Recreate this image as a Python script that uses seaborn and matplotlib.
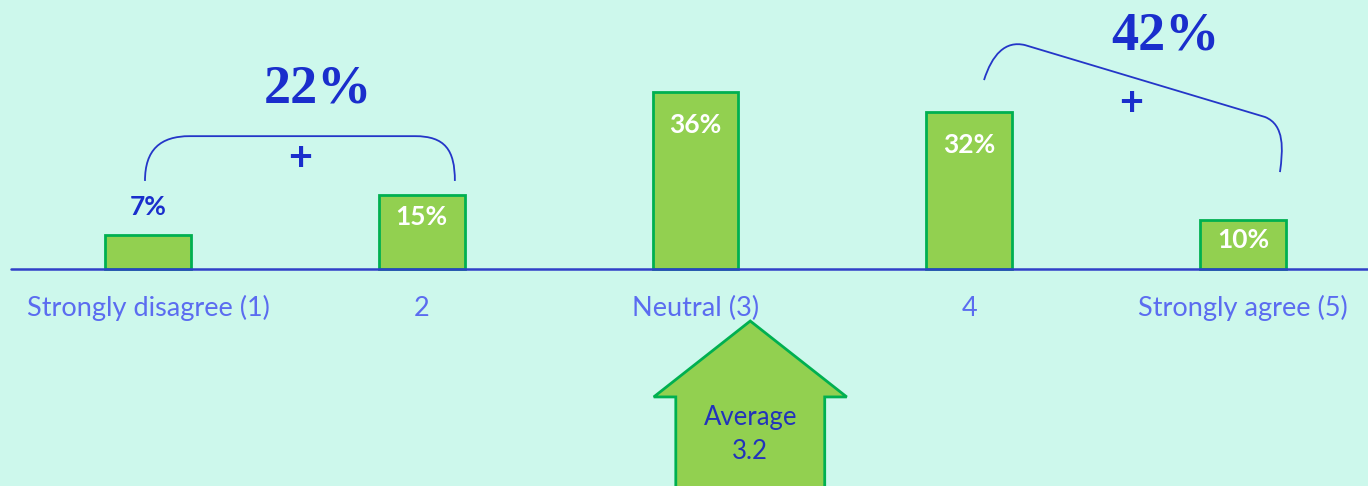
import matplotlib
matplotlib.use("Agg")
import matplotlib.pyplot as plt
from matplotlib.path import Path
from matplotlib.patches import PathPatch, Polygon
import seaborn as sns
import pandas as pd

# Survey response distribution
categories = ["Strongly disagree (1)", "2", "Neutral (3)", "4", "Strongly agree (5)"]
shares = [7, 15, 36, 32, 10]
bottom_two = "22%"
top_two = "42%"
average = 3.2

BG = "#CDF8EC"
FILL = "#92D050"
EDGE = "#00B050"
DARK = "#1A2ECC"
TICK = "#5B6CF0"

sns.set_theme(style="white")
plt.rcParams["font.family"] = ["Lato", "DejaVu Sans"]

fig = plt.figure(figsize=(13.68, 4.86), dpi=100, facecolor=BG)
ax = fig.add_axes([0, 0, 1, 1])
ax.set_facecolor(BG)

df = pd.DataFrame({"category": categories, "share": shares})
sns.barplot(data=df, x="category", y="share", order=categories, width=0.314,
            color=FILL, edgecolor=EDGE, linewidth=2, saturation=1, ax=ax, zorder=2)

ax.set_xlim(-0.5406, 4.4566)
ax.set_ylim(-44.1, 54.67)
for s in ax.spines.values():
    s.set_visible(False)
ax.set_xticks([])
ax.set_yticks([])
ax.set_xlabel("")
ax.set_ylabel("")

# baseline
ax.axhline(0, xmin=11 / 1368, xmax=1, color="#3040C8", lw=1.8, zorder=3)

# category labels under the baseline
for i, c in enumerate(categories):
    ax.text(i, -8.0, c, ha="center", va="center", fontsize=19.5, color=TICK)

# value labels
for i, v in enumerate(shares):
    if v < 10:
        ax.text(i, v + 5.6, f"{v}%", ha="center", va="center", fontsize=19,
                fontweight="bold", color=DARK, zorder=4)
    else:
        off = min(6.8, max(4.1, 0.3 * v))
        ax.text(i, v - off, f"{v}%", ha="center", va="center", fontsize=19,
                fontweight="bold", color="white", zorder=4)

# group brackets
C4, L, M = Path.CURVE4, Path.LINETO, Path.MOVETO
left_br = [(-0.011, 17.9), (-0.011, 24.2), (0.044, 27.0), (0.153, 27.0),
           (0.975, 27.0), (1.085, 27.0), (1.121, 24.2), (1.121, 17.9)]
right_br = [(3.054, 38.4), (3.083, 43.5), (3.131, 46.5), (3.204, 45.5),
            (4.080, 30.9), (4.153, 29.3), (4.146, 24.2), (4.135, 19.7)]
codes = [M, C4, C4, C4, L, C4, C4, C4]
for pts in (left_br, right_br):
    ax.add_patch(PathPatch(Path(pts, codes), fill=False, edgecolor="#2436C8",
                           lw=1.3, zorder=3))

ax.text(0.621, 36.4, bottom_two, ha="center", va="center", fontsize=39,
        fontweight="bold", family="Liberation Serif", color=DARK)
ax.text(0.555, 22.4, "+", ha="center", va="center", fontsize=30,
        fontweight="bold", color=DARK)
ax.text(3.715, 47.2, top_two, ha="center", va="center", fontsize=39,
        fontweight="bold", family="Liberation Serif", color=DARK)
ax.text(3.591, 33.5, "+", ha="center", va="center", fontsize=30,
        fontweight="bold", color=DARK)

# arrow marking the mean score
ax_x = average - 1
head, shaft = 0.3525, 0.272
tip_y, shoulder_y, base_y = -10.57, -26.0, -50
arrow = Polygon([(ax_x, tip_y), (ax_x + head, shoulder_y), (ax_x + shaft, shoulder_y),
                 (ax_x + shaft, base_y), (ax_x - shaft, base_y),
                 (ax_x - shaft, shoulder_y), (ax_x - head, shoulder_y)],
                closed=True, facecolor=FILL, edgecolor=EDGE, lw=2, zorder=2,
                clip_on=True)
ax.add_patch(arrow)
ax.text(ax_x, -33.6, f"Average\n{average}", ha="center", va="center",
        fontsize=18.5, color="#2233BB", linespacing=1.45)

fig.savefig("out.png", dpi=100, facecolor=BG)
